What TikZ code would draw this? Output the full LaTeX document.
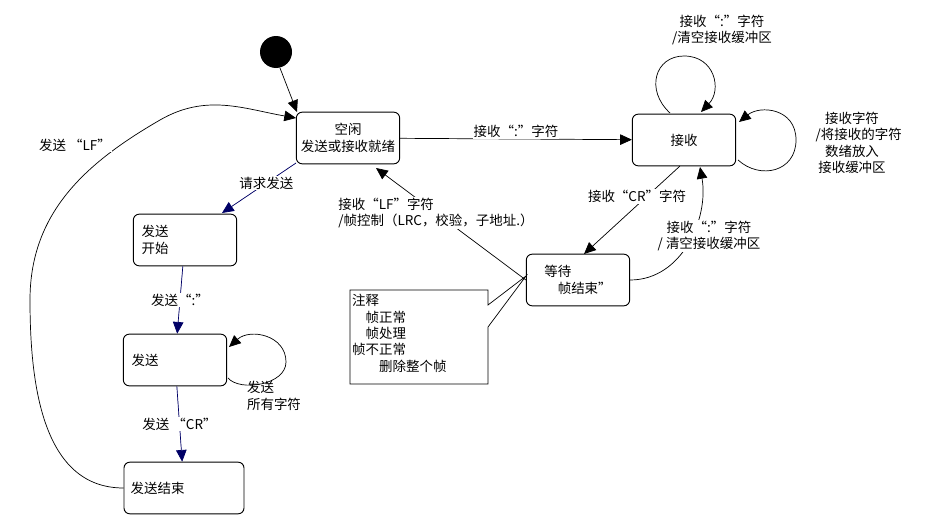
\documentclass[tikz,border=0pt]{standalone}
\usepackage{fontspec}
\setmainfont{Liberation Serif}
\newfontfamily\cjk{Noto Sans CJK SC}
\usetikzlibrary{arrows.meta,calc}
\begin{document}
\begin{tikzpicture}[x=0.03cm,y=-0.03cm,
    font=\cjk\fontsize{11.5}{14}\selectfont,
    state/.style={draw,thick,rounded corners=5pt,minimum width=3.1cm,minimum height=1.55cm,align=center},
    tr/.style={-{Triangle[length=10pt,width=9pt]},semithick},
    send/.style={-{Triangle[length=10pt,width=9pt]},semithick,draw=blue!40!black,fill=blue!40!black},
    lbl/.style={fill=white,inner sep=1pt,align=center}]
  \useasboundingbox (0,0) rectangle (950,532);

  \fill (276,52) circle (16);
  \node[state] (idle) at (348,138) {空闲\\发送或接收就绪};
  \node[state] (recv) at (684,140) {接收};
  \node[state,align=left] (wait) at (578,280) {等待\\\quad 帧结束”};
  \node[state,align=left,text width=2.6cm] (start) at (185,240) {发送\\开始};
  \node[state,align=left,text width=2.6cm] (sending) at (175,360) {发送\\[6pt]};
  \node[state,minimum width=3.6cm,align=left,text width=3.2cm] (done) at (184,488) {发送结束\\[12pt]};

  % note with callout
  \draw[semithick] (488,305) -- (488,290) -- (350,290) -- (350,384) -- (488,384) -- (488,327) -- (526,276) -- cycle;
  \node[align=left,anchor=north west,inner sep=0pt] (note) at (352,294) {注释\\\quad 帧正常\\\quad 帧处理\\帧不正常\\\quad\quad 删除整个帧};

  % transitions
  \draw[tr] (280,68) -- (297,112);
  \draw[tr] (idle) -- node[above,lbl] {接收“:”字符} (recv);
  \draw[tr] (680,166) -- node[lbl,pos=0.35,xshift=-8] {接收“CR”字符} (584,254);
  \draw[tr] (wait.east) to[out=0,in=-80] node[lbl,pos=0.55,right,xshift=-30] {接收“:”字符\\/ 清空接收缓冲区} (700,167);
  \draw[tr] (wait.west) -- node[lbl,pos=0.6,align=left] {接收“LF”字符\\/帧控制（LRC，校验，子地址.）} (376,168);
  \draw[tr] (670,113) .. controls (645,90) and (655,56) .. (684,56) .. controls (715,56) and (722,90) .. (701,112);
  \node[align=center] (toplbl) at (722,30) {接收“:”字符\\/清空接收缓冲区};
  \draw[tr] (738,160) .. controls (760,180) and (796,172) .. (796,140) .. controls (796,108) and (760,105) .. (739,122);
  \node[align=center] (rightlbl) at (852,143) {接收字符\\\quad /将接收的字符\\数绪放入\\接收缓冲区};
  \draw[send] (296,163) -- node[lbl,pos=0.4] {请求发送} (222,213);
  \draw[send] (start) -- node[lbl] {发送“:”} (sending);
  \draw[tr] (228,378) .. controls (240,392) and (286,385) .. (286,362) .. controls (286,335) and (250,328) .. (229,347);
  \node[align=left] (looplbl) at (274,396) {发送\\所有字符};
  \draw[send] (sending) -- node[lbl] {发送 “CR”} (done);
  \draw[tr] (done.west) to[out=180,in=-90] (30,300) to[out=90,in=-150] (160,120) to[out=30,in=170] (296,118);
  \node[lbl] (lflbl) at (75,145) {发送 “LF”};
\end{tikzpicture}
\end{document}
